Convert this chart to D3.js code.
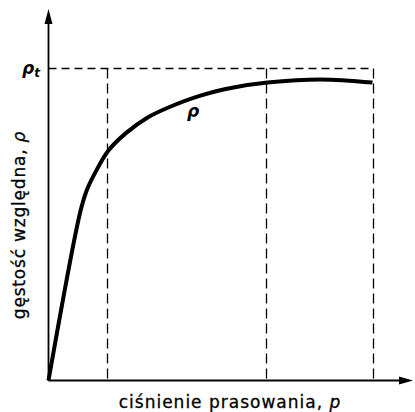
<!DOCTYPE html>
<html>
<head>
<meta charset="utf-8">
<script src="https://cdn.jsdelivr.net/npm/d3@7"></script>
<style>
  html, body { margin: 0; padding: 0; background: #fff; }
  svg { display: block; }
  text { font-family: "DejaVu Sans", sans-serif; fill: #000; }
</style>
</head>
<body>
<svg id="chart" width="415" height="412"></svg>
<script>
// pressure p (% of the last marked pressure) and relative density (fraction of rho_t)
const pressure = [0, 9.8, 11.9, 14.5, 18.5, 23.8, 30.6, 37.0, 46.9, 57.1, 67.6, 84.0, 100];
const density  = [0, 0.54, 0.612, 0.668, 0.737, 0.792, 0.843, 0.875, 0.913, 0.939, 0.955, 0.965, 0.955];
const markP = [18.2, 67, 100];
const rhoT = 1;

const svg = d3.select("#chart");

const x = d3.scaleLinear().domain([0, 100]).range([48.5, 372.5]);
const y = d3.scaleLinear().domain([0, 1]).range([380.5, 68.5]);
const xEnd = 413, yEnd = 9;

// dashed guides
svg.append("line")
  .attr("x1", x(0)).attr("x2", x(100))
  .attr("y1", y(rhoT)).attr("y2", y(rhoT))
  .attr("stroke", "#000").attr("stroke-width", 1.3)
  .attr("stroke-dasharray", "8,5");

svg.selectAll("line.mark")
  .data(markP)
  .join("line")
  .attr("class", "mark")
  .attr("x1", d => Math.round(x(d)) + 0.5).attr("x2", d => Math.round(x(d)) + 0.5)
  .attr("y1", y(rhoT)).attr("y2", y(0))
  .attr("stroke", "#000").attr("stroke-width", 1.3)
  .attr("stroke-dasharray", "10,5");

// axes
svg.append("line")
  .attr("x1", x(0)).attr("x2", xEnd - 10)
  .attr("y1", y(0)).attr("y2", y(0))
  .attr("stroke", "#000").attr("stroke-width", 1.8);
svg.append("line")
  .attr("x1", x(0)).attr("x2", x(0))
  .attr("y1", y(0)).attr("y2", yEnd + 10)
  .attr("stroke", "#000").attr("stroke-width", 1.8);

svg.append("path")
  .attr("d", `M${xEnd},${y(0)} L${xEnd - 14},${y(0) - 4} L${xEnd - 14},${y(0) + 4} Z`)
  .attr("fill", "#000");
svg.append("path")
  .attr("d", `M${x(0)},${yEnd} L${x(0) - 4},${yEnd + 15} L${x(0) + 4},${yEnd + 15} Z`)
  .attr("fill", "#000");

// density curve
const line = d3.line()
  .x((d, i) => x(pressure[i]))
  .y(d => y(d))
  .curve(d3.curveCatmullRom.alpha(0.5));

svg.append("path")
  .attr("d", line(density))
  .attr("fill", "none")
  .attr("stroke", "#000")
  .attr("stroke-width", 4)
  .attr("stroke-linejoin", "round");

// labels
const rt = svg.append("text")
  .attr("x", 22).attr("y", y(rhoT) + 5)
  .style("font-size", "17px").style("font-style", "italic").style("font-weight", "bold");
rt.append("tspan").text("ρ");
rt.append("tspan").attr("dy", 3).style("font-size", "12px").text("t");

svg.append("text")
  .attr("x", 187).attr("y", 117)
  .style("font-size", "17px").style("font-style", "italic").style("font-weight", "bold")
  .text("ρ");

svg.append("text")
  .attr("x", 230).attr("y", 408)
  .attr("text-anchor", "middle")
  .style("font-size", "17px")
  .style("letter-spacing", "1px")
  .attr("stroke", "#000").attr("stroke-width", 0.3)
  .html('ciśnienie prasowania, <tspan style="font-style:italic">p</tspan>');

svg.append("text")
  .attr("transform", "translate(25,225) rotate(-90)")
  .attr("text-anchor", "middle")
  .style("font-size", "17px")
  .style("letter-spacing", "0.8px")
  .attr("stroke", "#000").attr("stroke-width", 0.3)
  .html('gęstość względna, <tspan style="font-style:italic">ρ</tspan>');
</script>
</body>
</html>
